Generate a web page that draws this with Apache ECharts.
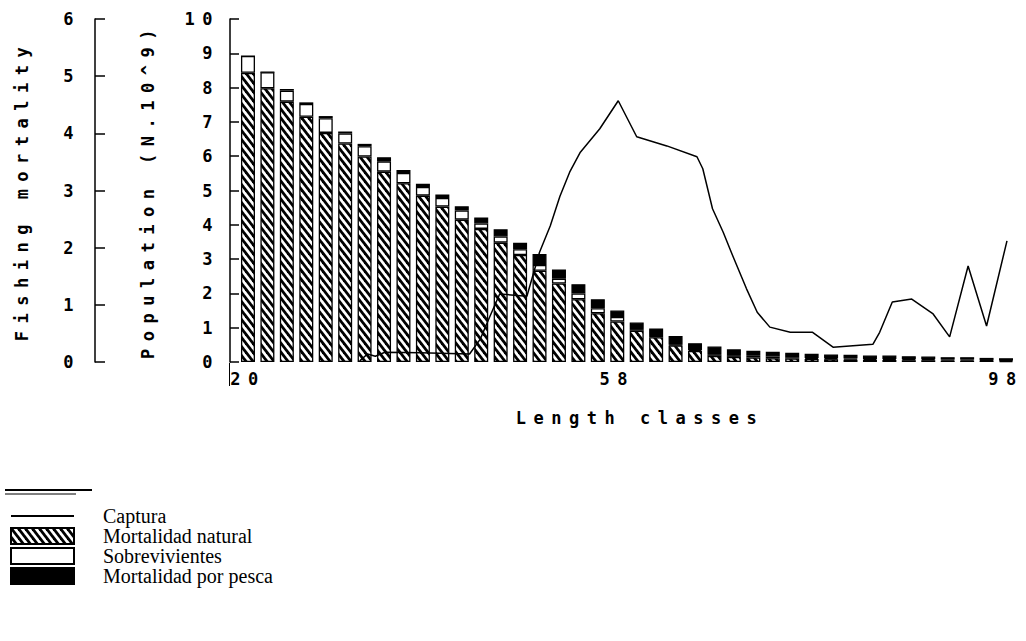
<!DOCTYPE html>
<html>
<head>
<meta charset="utf-8">
<script src="https://cdn.jsdelivr.net/npm/echarts@6/dist/echarts.min.js"></script>
<style>
  html, body { margin: 0; padding: 0; background: #fff; }
  #chart { width: 1026px; height: 641px; }
  /* wide-set plotter lettering for the axis texts */
  #chart text[style*="Mono"] { letter-spacing: 7.5px; }
</style>
</head>
<body>
<div id="chart"></div>
<script>
// Length classes (cm), one stacked bar per class
const lengthClasses = [20, 22, 24, 26, 28, 30, 32, 34, 36, 38,
                       40, 42, 44, 46, 48, 50, 52, 54, 56, 58,
                       60, 62, 64, 66, 68, 70, 72, 74, 76, 78,
                       80, 82, 84, 86, 88, 90, 92, 94, 96, 98];

// Population components (N.10^9)
const naturalMortality = [8.43, 7.98, 7.59, 7.15, 6.68, 6.37, 5.99, 5.55, 5.21, 4.85,
                          4.53, 4.15, 3.88, 3.48, 3.12, 2.66, 2.29, 1.83, 1.42, 1.18,
                          0.91, 0.72, 0.48, 0.32, 0.18, 0.15, 0.13, 0.11, 0.10, 0.09,
                          0.08, 0.07, 0.06, 0.06, 0.05, 0.05, 0.04, 0.04, 0.04, 0.03];
const survivors = [0.49, 0.47, 0.32, 0.37, 0.43, 0.29, 0.30, 0.30, 0.30, 0.25,
                   0.25, 0.27, 0.16, 0.18, 0.17, 0.17, 0.14, 0.17, 0.15, 0.13,
                   0.05, 0.04, 0.02, 0.03, 0.05, 0.05, 0.05, 0.05, 0.04, 0.03,
                   0.03, 0.03, 0.03, 0.03, 0.03, 0.03, 0.03, 0.03, 0.02, 0.02];
const fishingMortality = [0.00, 0.00, 0.05, 0.05, 0.06, 0.06, 0.07, 0.12, 0.09, 0.10,
                          0.10, 0.12, 0.17, 0.21, 0.19, 0.32, 0.27, 0.27, 0.26, 0.19,
                          0.19, 0.22, 0.26, 0.20, 0.22, 0.17, 0.15, 0.14, 0.13, 0.12,
                          0.11, 0.11, 0.10, 0.10, 0.09, 0.08, 0.07, 0.07, 0.06, 0.06];

// Catch curve, read against the fishing mortality scale
const catchLength = [31.5, 32.3, 33.1, 34.1, 37.7, 42.8, 43.9, 44.9, 45.9, 48.7,
                     50.0, 51.1, 52.1, 53.1, 54.2, 56.2, 58.1, 60.0, 63.1, 66.2,
                     66.8, 67.8, 68.9, 69.9, 71.3, 72.4, 73.7, 75.8, 78.1, 80.2,
                     84.3, 85.0, 86.3, 88.3, 90.5, 92.2, 94.1, 96.0, 98.1];
const catchValue = [0.02, 0.14, 0.10, 0.17, 0.16, 0.14, 0.40, 0.80, 1.19, 1.15,
                    1.92, 2.38, 2.90, 3.32, 3.67, 4.08, 4.57, 3.94, 3.78, 3.59,
                    3.38, 2.68, 2.27, 1.85, 1.28, 0.87, 0.61, 0.52, 0.52, 0.26,
                    0.31, 0.52, 1.05, 1.10, 0.84, 0.44, 1.68, 0.63, 2.12];

// Labelled length classes on the horizontal axis
const lengthTickLabels = [20, 58, 98];

// Diagonal "\\\" hatching tile for the natural mortality segments
function hatchTile() {
  const w = 7, h = 9;
  const c = document.createElement('canvas');
  c.width = w; c.height = h;
  const g = c.getContext('2d');
  g.fillStyle = '#fff';
  g.fillRect(0, 0, w, h);
  g.strokeStyle = '#000';
  g.lineWidth = 2.8;
  for (const dx of [-w, 0, w]) {
    g.beginPath();
    g.moveTo(dx - w, -h);
    g.lineTo(dx + 2 * w, 2 * h);
    g.stroke();
  }
  return c.toDataURL();
}
const hatchFill = { image: hatchTile(), repeat: 'repeat' };

const monoFont = "'DejaVu Sans Mono', monospace";
const axisText = { fontFamily: monoFont, fontSize: 17, fontWeight: 'bold', color: '#000' };

// Length scale: 2 cm per class band, so the bar grid is the value grid
// trimmed to whole bands around 20..98
const xMin = 18.15, xMax = 99.44, plotLeft = 230, plotWidth = 790;
const pxPerCm = plotWidth / (xMax - xMin);
const barLeft = plotLeft + (19 - xMin) * pxPerCm;
const barWidthPx = 80 * pxPerCm;

const barBorder = { borderColor: '#000', borderWidth: 1.3 };

const chart = echarts.init(document.getElementById('chart'), null, { renderer: 'svg' });

chart.setOption({
  backgroundColor: '#fff',
  animation: false,
  grid: [
    { left: plotLeft, top: 19, width: plotWidth, height: 343 },
    { left: barLeft, top: 19, width: barWidthPx, height: 343 }
  ],
  xAxis: [
    {
      type: 'value',
      gridIndex: 0,
      min: xMin,
      max: xMax,
      splitLine: { show: false },
      axisLine: { show: false },
      axisTick: { show: false },
      axisLabel: { customValues: lengthTickLabels, margin: 8, ...axisText },
      name: 'Length classes',
      nameLocation: 'middle',
      nameGap: 47,
      nameTextStyle: { ...axisText, padding: [0, 0, 0, 30] }
    },
    {
      type: 'category',
      gridIndex: 1,
      data: lengthClasses,
      boundaryGap: true,
      show: false
    }
  ],
  yAxis: [
    {
      type: 'value',
      gridIndex: 0,
      position: 'left',
      min: 0, max: 10, interval: 1,
      splitLine: { show: false },
      axisLine: { show: true, lineStyle: { color: '#000', width: 1.5 } },
      axisTick: { show: true, inside: true, length: 9, lineStyle: { color: '#000', width: 1.5 } },
      axisLabel: { margin: 10, ...axisText },
      name: 'Population (N.10^9)',
      nameLocation: 'middle',
      nameGap: 74,
      nameTextStyle: axisText
    },
    {
      type: 'value',
      gridIndex: 0,
      position: 'left',
      offset: 135,
      min: 0, max: 6, interval: 1,
      splitLine: { show: false },
      axisLine: { show: true, lineStyle: { color: '#000', width: 1.5 } },
      axisTick: { show: true, inside: true, length: 10, lineStyle: { color: '#000', width: 1.5 } },
      axisLabel: { margin: 14, ...axisText },
      name: 'Fishing mortality',
      nameLocation: 'middle',
      nameGap: 65,
      nameTextStyle: axisText
    },
    {
      type: 'value',
      gridIndex: 1,
      min: 0, max: 10,
      show: false
    }
  ],
  legend: {
    orient: 'vertical',
    left: 5,
    top: 501,
    itemWidth: 63,
    itemHeight: 16,
    itemGap: 0,
    selectedMode: false,
    symbolKeepAspect: true,
    textStyle: {
      fontFamily: "'Liberation Serif', serif", fontSize: 20,
      color: '#000', padding: [0, 0, 0, 24]
    },
    data: [
      { name: 'Captura', icon: 'path://M0,0 L63,0 L63,1.8 L0,1.8 Z' },
      { name: 'Mortalidad natural', icon: 'rect' },
      { name: 'Sobrevivientes', icon: 'rect' },
      { name: 'Mortalidad por pesca', icon: 'rect' }
    ]
  },
  graphic: [
    { type: 'line', shape: { x1: 5, y1: 490, x2: 92, y2: 490 }, style: { stroke: '#000', lineWidth: 2 } },
    { type: 'line', shape: { x1: 5, y1: 494, x2: 76, y2: 494 }, style: { stroke: '#000', lineWidth: 1 } },
    { type: 'line', shape: { x1: 229.5, y1: 363, x2: 229.5, y2: 386 }, style: { stroke: '#000', lineWidth: 1 } }
  ],
  series: [
    {
      name: 'Mortalidad natural',
      type: 'bar',
      xAxisIndex: 1, yAxisIndex: 2,
      stack: 'pop',
      barWidth: 14,
      data: naturalMortality,
      itemStyle: { color: hatchFill, ...barBorder }
    },
    {
      name: 'Sobrevivientes',
      type: 'bar',
      xAxisIndex: 1, yAxisIndex: 2,
      stack: 'pop',
      barWidth: 14,
      data: survivors,
      itemStyle: { color: '#fff', ...barBorder }
    },
    {
      name: 'Mortalidad por pesca',
      type: 'bar',
      xAxisIndex: 1, yAxisIndex: 2,
      stack: 'pop',
      barWidth: 14,
      data: fishingMortality,
      itemStyle: { color: '#000', ...barBorder }
    },
    {
      name: 'Captura',
      type: 'line',
      xAxisIndex: 0, yAxisIndex: 1,
      z: 5,
      symbol: 'none',
      data: catchLength.map((x, i) => [x, catchValue[i]]),
      lineStyle: { color: '#000', width: 1.5 },
      itemStyle: { color: '#000' }
    }
  ]
});
</script>
</body>
</html>
